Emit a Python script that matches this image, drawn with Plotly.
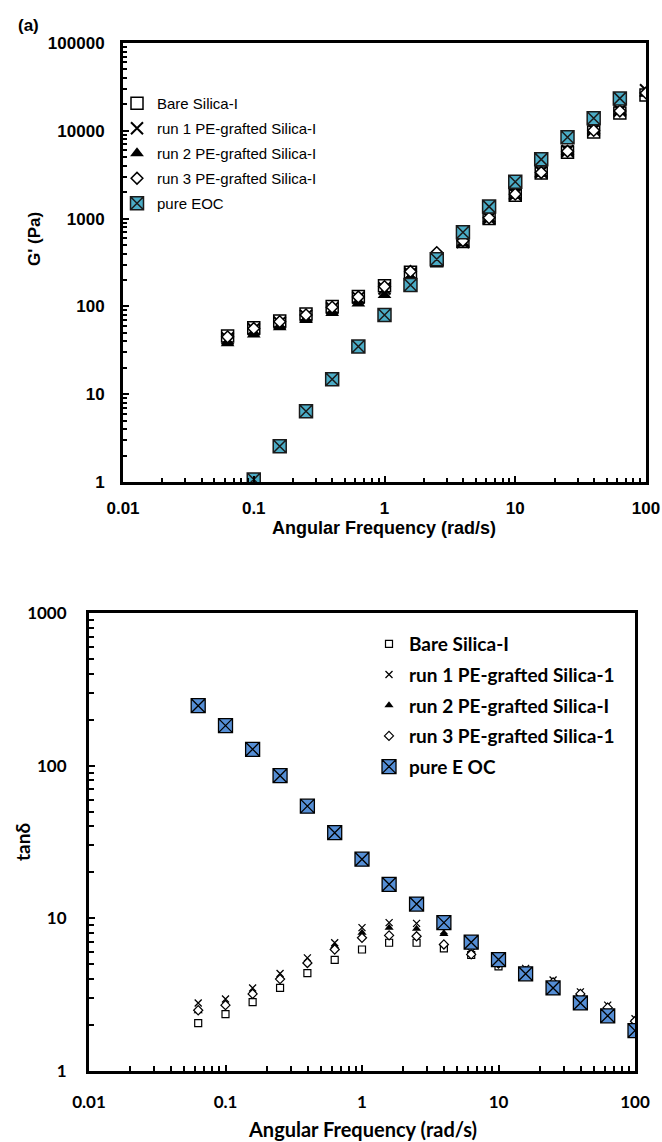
import plotly.graph_objects as go

# ---------------- data ----------------
freq = [0.0631, 0.1, 0.158, 0.251, 0.398, 0.631, 1, 1.58, 2.51, 3.98, 6.31, 10, 15.8, 25.1, 39.8, 63.1, 100]

# (a) storage modulus G' (Pa)
g_bare = [46, 57, 68, 82, 100, 130, 172, 245, 330, 550, 1000, 1850, 3300, 5700, 9700, 16000, 25500]
g_run1 = [43, 55, 65, 78, 95, 125, 160, 235, 340, 540, 1010, 1880, 3400, 5900, 10300, 17000, 29000]
g_run2 = [38, 48, 58, 70, 84, 108, 135, 215, 350, 520, 980, 1820, 3250, 5750, 10000, 16500, 26500]
g_run3 = [45, 56, 67, 80, 98, 128, 168, 250, 410, 560, 1020, 1900, 3350, 5850, 10100, 16800, 27000]
g_eoc = [None, 1.07, 2.55, 6.4, 14.8, 35, 80, 175, 345, 700, 1370, 2630, 4730, 8430, 13900, 23400, None]

# (b) tan delta
t_bare = [2.06, 2.36, 2.83, 3.50, 4.37, 5.35, 6.25, 6.92, 6.92, 6.35, 5.75, 4.85, 4.35, 3.6, 3.0, 2.45, 2.05]
t_run1 = [2.79, 2.96, 3.50, 4.35, 5.51, 6.92, 8.69, 9.37, 9.27, 8.3, 6.0, 5.25, 4.7, 3.95, 3.3, 2.7, 2.2]
t_run2 = [2.46, 2.76, 3.29, 4.11, 5.19, 6.57, 8.05, 8.69, 8.54, 7.9, 5.9, 5.15, 4.6, 3.85, 3.25, 2.65, 2.17]
t_run3 = [2.5, 2.7, 3.2, 4.0, 5.1, 6.25, 7.46, 7.73, 7.63, 6.74, 5.8, 5.05, 4.5, 3.8, 3.2, 2.6, 2.12]
t_eoc = [247, 183, 128, 86, 54.3, 36.4, 24.4, 16.7, 12.4, 9.37, 6.98, 5.37, 4.33, 3.50, 2.79, 2.30, 1.84]

names_a = ["Bare Silica-I", "run 1 PE-grafted Silica-I", "run 2 PE-grafted Silica-I",
           "run 3 PE-grafted Silica-I", "pure EOC"]
names_b = ["Bare Silica-I", "run 1 PE-grafted Silica-1", "run 2 PE-grafted Silica-I",
           "run 3 PE-grafted Silica-1", "pure E OC"]

x_tickvals = [0.01, 0.1, 1, 10, 100]
x_ticktext = ["0.01", "0.1", "1", "10", "100"]
ya_tickvals = [1, 10, 100, 1000, 10000, 100000]
ya_ticktext = ["1", "10", "100", "1000", "10000", "100000"]
yb_tickvals = [1, 10, 100, 1000]
yb_ticktext = ["1", "10", "100", "1000"]

W, H = 662, 1142
FA = "Liberation Sans, Arial, sans-serif"
FB = "Lato, Carlito, Calibri, sans-serif"
EOC_A = "#4BACC6"
EOC_B = "#558ED5"

fig = go.Figure()

def px_x(p):
    return p / W

def px_y(p):
    return 1 - p / H

# ---- top panel traces ----
sym_a = [
    dict(symbol="square", color="white", line=dict(color="black", width=1.5), size=12),
    dict(symbol="x-thin", color="black", line=dict(color="black", width=2), size=12),
    dict(symbol="triangle-up", color="black", line=dict(color="black", width=0), size=12),
    dict(symbol="diamond", color="white", line=dict(color="black", width=1.5), size=9),
    dict(symbol="square-x", color=EOC_A, line=dict(color="#1a1a1a", width=1.5), size=13),
]
for i, (ys, nm) in enumerate(zip([g_bare, g_run1, g_run2, g_run3, g_eoc], names_a)):
    fig.add_trace(go.Scatter(x=freq, y=ys, mode="markers", name=nm, marker=sym_a[i],
                             xaxis="x", yaxis="y", legend="legend", legendgroup="a%d" % i))

sym_b = [
    dict(symbol="square", color="white", line=dict(color="black", width=1.2), size=7),
    dict(symbol="x-thin", color="black", line=dict(color="black", width=1.3), size=7),
    dict(symbol="triangle-up", color="black", line=dict(color="black", width=0), size=8),
    dict(symbol="diamond", color="white", line=dict(color="black", width=1.2), size=7),
    dict(symbol="square-x", color=EOC_B, line=dict(color="black", width=1.3), size=14),
]
for i, (ys, nm) in enumerate(zip([t_bare, t_run1, t_run2, t_run3, t_eoc], names_b)):
    fig.add_trace(go.Scatter(x=freq, y=ys, mode="markers", name=nm, marker=sym_b[i],
                             xaxis="x2", yaxis="y2", legend="legend2", legendgroup="b%d" % i))

axis_common = dict(type="log", showgrid=False, zeroline=False, showline=True, linecolor="black",
                   linewidth=3, mirror=True, ticks="inside", tickcolor="black", tickwidth=2,
                   ticklen=6)

fig.update_layout(
    width=W, height=H,
    margin=dict(l=0, r=0, t=0, b=0, autoexpand=False),
    paper_bgcolor="white", plot_bgcolor="white",
    xaxis=dict(axis_common, domain=[px_x(123), px_x(646)], anchor="y",
               range=[-2, 2], tickvals=x_tickvals, ticktext=x_ticktext,
               tickfont=dict(family=FA, size=17, color="black", weight="bold"),
               ticklabelstandoff=9,
               minor=dict(ticks="inside", ticklen=4, tickwidth=2, tickcolor="black", dtick="D1")),
    yaxis=dict(axis_common, domain=[px_y(482), px_y(43)], anchor="x",
               range=[0, 5], tickvals=ya_tickvals, ticktext=ya_ticktext,
               tickfont=dict(family=FA, size=17, color="black", weight="bold"),
               ticklabelstandoff=12,
               minor=dict(ticks="inside", ticklen=4, tickwidth=2, tickcolor="black", dtick="D1")),
    xaxis2=dict(axis_common, domain=[px_x(89), px_x(635)], anchor="y2",
                range=[-2, 2], tickvals=x_tickvals, ticktext=x_ticktext,
                tickfont=dict(family=FB, size=17, color="black", weight="bold"),
                ticklabelstandoff=14,
                minor=dict(ticks="inside", ticklen=5, tickwidth=2, tickcolor="black", dtick="D1")),
    yaxis2=dict(axis_common, domain=[px_y(1071), px_y(613)], anchor="x2",
                range=[0, 3], tickvals=yb_tickvals, ticktext=yb_ticktext,
                tickfont=dict(family=FB, size=17, color="black", weight="bold"),
                ticklabelstandoff=16,
                minor=dict(ticks="inside", ticklen=5, tickwidth=2, tickcolor="black", dtick="D1")),
    legend=dict(x=px_x(117), y=px_y(87), xanchor="left", yanchor="top",
                bgcolor="rgba(0,0,0,0)", borderwidth=0, tracegroupgap=2.5,
                font=dict(family=FA, size=15, color="black"), traceorder="grouped",
                itemwidth=30),
    legend2=dict(x=px_x(369), y=px_y(625), xanchor="left", yanchor="top",
                 bgcolor="rgba(0,0,0,0)", borderwidth=0, tracegroupgap=3,
                 font=dict(family=FB, size=19, color="black", weight="bold"), traceorder="grouped",
                 itemwidth=30),
    annotations=[
        dict(text="<b>(a)</b>", x=px_x(16), y=px_y(25), xref="paper", yref="paper",
             xanchor="left", yanchor="middle", showarrow=False,
             font=dict(family=FA, size=17, color="black")),
        dict(text="<b>G' (Pa)</b>", x=px_x(34), y=px_y(239), xref="paper", yref="paper",
             xanchor="center", yanchor="middle", showarrow=False, textangle=-90,
             font=dict(family=FA, size=17, color="black")),
        dict(text="<b>Angular Frequency (rad/s)</b>", x=px_x(384), y=px_y(528), xref="paper",
             yref="paper", xanchor="center", yanchor="middle", showarrow=False,
             font=dict(family=FA, size=18, color="black")),
        dict(text="<b>tanδ</b>", x=px_x(22), y=px_y(842), xref="paper", yref="paper",
             xanchor="center", yanchor="middle", showarrow=False, textangle=-90,
             font=dict(family=FB, size=19, color="black")),
        dict(text="<b>Angular Frequency (rad/s)</b>", x=px_x(362), y=px_y(1129), xref="paper",
             yref="paper", xanchor="center", yanchor="middle", showarrow=False,
             font=dict(family=FB, size=20, color="black")),
    ],
)

fig.write_html("out.html", config={"displayModeBar": False},
               post_script="document.body.style.margin='0';document.body.style.overflow='hidden';")
